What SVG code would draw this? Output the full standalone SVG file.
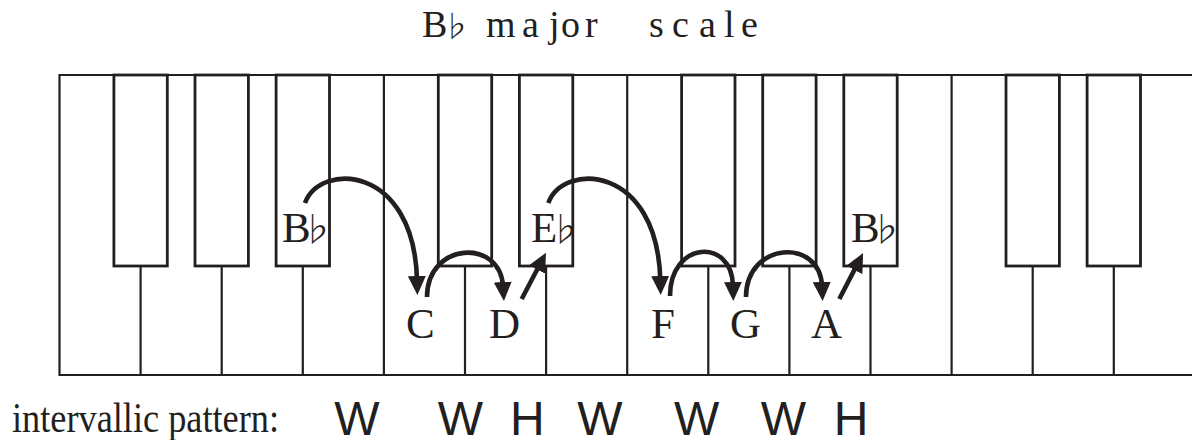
<svg xmlns="http://www.w3.org/2000/svg" width="1192" height="440" viewBox="0 0 1192 440">
<style>
.ln{stroke:#231f20;stroke-width:2.2;fill:none}
.bk{stroke:#231f20;stroke-width:2.8;fill:#fff}
.arr{stroke:#231f20;stroke-width:4.6;fill:none;marker-end:url(#ah)}
.lbl{font-family:"Liberation Serif","Times New Roman",serif;font-size:43px;fill:#231f20}
.flat{font-family:"Noto Sans CJK JP","DejaVu Sans",sans-serif;font-size:34px;font-weight:300;fill:#231f20}
.iv{font-family:"Liberation Sans",Arial,sans-serif;font-size:48px;fill:#231f20;text-anchor:middle}
</style>
<defs>
<marker id="ah" viewBox="0 0 19 18" refX="4" refY="9" markerWidth="19" markerHeight="18" markerUnits="userSpaceOnUse" orient="auto">
<path d="M0,0 L19,9 L0,18 z" fill="#231f20"/>
</marker>
</defs>
<rect width="1192" height="440" fill="#fff"/>
<g id="title">
<text class="lbl" style="font-size:38px" y="37" x="422">B<tspan class="flat" style="font-size:30px" x="441">♭</tspan><tspan x="486 522 549 561 585 605 649 672 699 724 741">major scale</tspan></text>
</g>
<g id="keyboard">
<path class="ln" d="M1192,75 H59.5 V375 H1192"/>
<path class="ln" d="M140.6,266 V375 M221.7,266 V375 M302.8,266 V375 M383.9,75 V375 M465,266 V375 M546.1,266 V375 M627.2,75 V375 M708.3,266 V375 M789.4,266 V375 M870.5,266 V375 M951.6,75 V375 M1032.7,266 V375 M1113.8,266 V375"/>
<g id="black-keys">
<rect class="bk" x="113.9" y="75" width="53.4" height="191"/>
<rect class="bk" x="195" y="75" width="53.4" height="191"/>
<rect class="bk" x="276.1" y="75" width="53.4" height="191"/>
<rect class="bk" x="438.3" y="75" width="53.4" height="191"/>
<rect class="bk" x="519.4" y="75" width="53.4" height="191"/>
<rect class="bk" x="681.6" y="75" width="53.4" height="191"/>
<rect class="bk" x="762.7" y="75" width="53.4" height="191"/>
<rect class="bk" x="843.8" y="75" width="53.4" height="191"/>
<rect class="bk" x="1006" y="75" width="53.4" height="191"/>
<rect class="bk" x="1087.1" y="75" width="53.4" height="191"/>
</g>
</g>
<g id="connectors">
<path class="arr" d="M305,203 C320,162 414,164 417,280"/>
<path class="arr" d="M427,297 C427,242 500,238 503,286"/>
<path class="arr" d="M521.7,299 L539,266"/>
<path class="arr" d="M548.3,203 C563.3,162 657.3,164 660.3,280"/>
<path class="arr" d="M670,296 C670,241 732,237 733,286"/>
<path class="arr" d="M746,297 C746,242 820,237 822,286"/>
<path class="arr" d="M839.3,299 L856.2,266.4"/>
</g>
<g id="note-bb1"><text class="lbl" x="282" y="242">B<tspan class="flat" x="300">♭</tspan></text></g>
<g id="note-c"><text class="lbl" x="406" y="338">C</text></g>
<g id="note-d"><text class="lbl" x="489" y="338">D</text></g>
<g id="note-eb"><text class="lbl" x="531" y="242">E<tspan class="flat" x="548">♭</tspan></text></g>
<g id="note-f"><text class="lbl" x="651" y="338">F</text></g>
<g id="note-g"><text class="lbl" x="730" y="338">G</text></g>
<g id="note-a"><text class="lbl" x="811" y="338">A</text></g>
<g id="note-bb2"><text class="lbl" x="851" y="242">B<tspan class="flat" x="869">♭</tspan></text></g>
<g id="pattern">
<text class="lbl" x="12" y="432" style="font-size:42px" textLength="267" lengthAdjust="spacingAndGlyphs">intervallic pattern:</text>
<text class="iv" x="357" y="435">W</text>
<text class="iv" x="460.5" y="435">W</text>
<text class="iv" x="527.3" y="435">H</text>
<text class="iv" x="600" y="435">W</text>
<text class="iv" x="696.7" y="435">W</text>
<text class="iv" x="783.3" y="435">W</text>
<text class="iv" x="851" y="435">H</text>
</g>
</svg>
